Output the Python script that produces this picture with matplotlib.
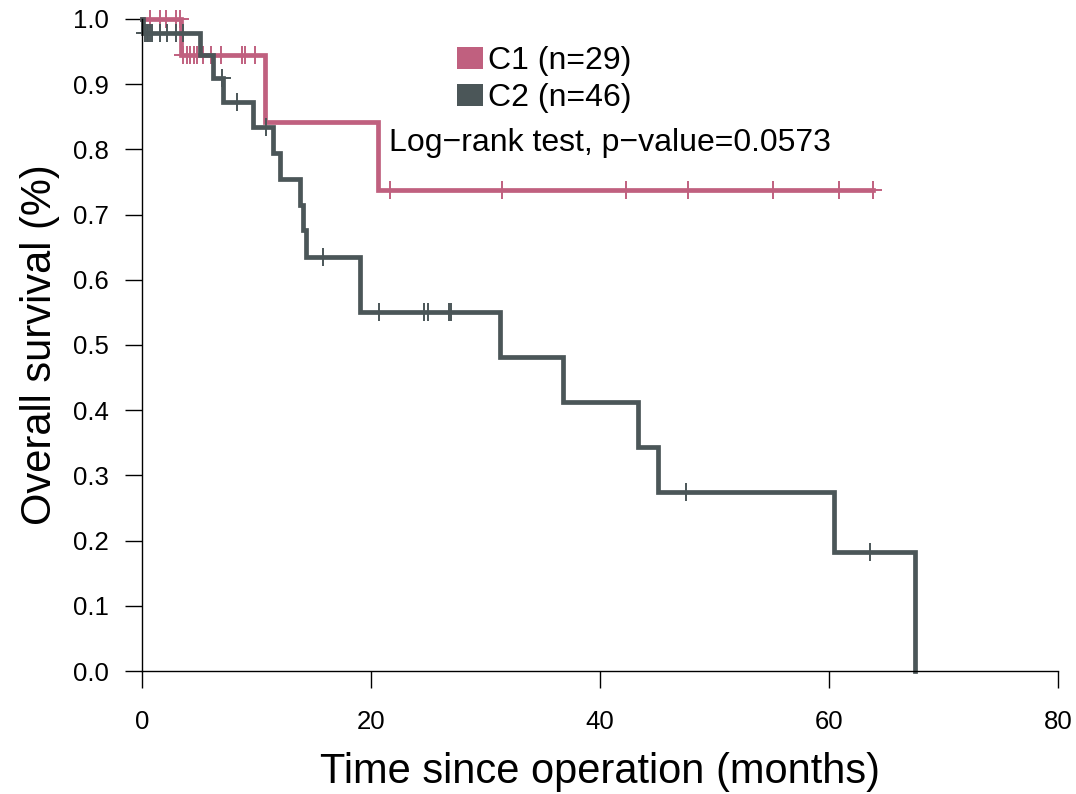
import matplotlib
matplotlib.use('Agg')
import matplotlib.pyplot as plt
from matplotlib.patches import Patch
import numpy as np

plt.rcParams['font.family'] = ['Liberation Sans', 'DejaVu Sans']

# Kaplan-Meier steps
c1_times = [0, 3.4, 10.75, 20.6]
c1_surv = [1.0, 0.945, 0.842, 0.738]
c1_end = 63.8
c1_censor = [0.7, 1.6, 2.1, 3.0, 3.3, 3.6, 3.9, 4.2, 4.5, 4.8, 5.3, 6.0, 6.9,
             8.75, 9.0, 9.9, 21.7, 31.4, 42.3, 47.7, 55.1, 60.9, 63.8]

c2_times = [0, 0.1, 5.07, 6.2, 7.1, 9.7, 11.4, 12.05, 13.8, 14.1, 14.3, 19.0,
            31.3, 36.8, 43.3, 45.1, 60.4, 67.5]
c2_surv = [1.0, 0.978, 0.945, 0.909, 0.872, 0.834, 0.794, 0.754, 0.715, 0.676,
           0.635, 0.551, 0.482, 0.413, 0.344, 0.275, 0.183, 0.0]
c2_end = 67.5
c2_censor = [0.25, 0.4, 0.55, 0.7, 0.85, 1.6, 2.2, 3.0, 3.6, 7.0, 8.3, 10.8,
             15.8, 20.7, 24.65, 25.0, 26.8, 27.0, 47.5, 63.6]

groups = ['C1 (n=29)', 'C2 (n=46)']
colours = ['#C0607F', '#4B5658']
x_ticks = [0, 20, 40, 60, 80]
y_ticks = [0.0, 0.1, 0.2, 0.3, 0.4, 0.5, 0.6, 0.7, 0.8, 0.9, 1.0]
p_text = 'Log\u2212rank test, p\u2212value=0.0573'


def km_line(ax, times, surv, end, censor, colour):
    x = list(times) + [end]
    y = list(surv) + [surv[-1]]
    ax.step(x, y, where='post', color=colour, linewidth=3.4, clip_on=False,
            solid_joinstyle='miter')
    idx = np.searchsorted(times, censor, side='right') - 1
    cy = np.array(surv)[idx]
    ax.plot(censor, cy, linestyle='none', marker='+', markersize=13,
            markeredgewidth=1.4, color=colour, clip_on=False)


fig = plt.figure(figsize=(10.76, 7.94), dpi=100)
ax = fig.add_axes([0.132, 0.1549, 0.8513, 0.8212])

km_line(ax, c1_times, c1_surv, c1_end, c1_censor, colours[0])
km_line(ax, c2_times, c2_surv, c2_end, c2_censor, colours[1])

ax.set_xlim(0, 80)
ax.set_ylim(0, 1)
ax.set_xticks(x_ticks)
ax.set_yticks(y_ticks)
ax.set_yticklabels(['%.1f' % v for v in y_ticks])
for s in ['top', 'right']:
    ax.spines[s].set_visible(False)
for s in ['left', 'bottom']:
    ax.spines[s].set_linewidth(1.0)
ax.tick_params(axis='both', direction='out', length=12.2, width=1.0,
               labelsize=18.5)
ax.tick_params(axis='x', pad=16)
ax.tick_params(axis='y', pad=12)

ax.set_xlabel('Time since operation (months)', fontsize=30, labelpad=13)
ax.set_ylabel('Overall survival (%)', fontsize=30, labelpad=9)

ax.text(21.6, 0.797, p_text, fontsize=23, va='baseline', ha='left')

handles = [Patch(facecolor=c, edgecolor='none') for c in colours]
ax.legend(handles, groups, loc='upper left', frameon=False, fontsize=23,
          bbox_to_anchor=(457 / 1076, 1 - 46 / 794),
          bbox_transform=fig.transFigure, borderaxespad=0, borderpad=0,
          handlelength=0.8, handleheight=0.7, handletextpad=0.16,
          labelspacing=0.22)

plt.savefig('out.png', dpi=100)
